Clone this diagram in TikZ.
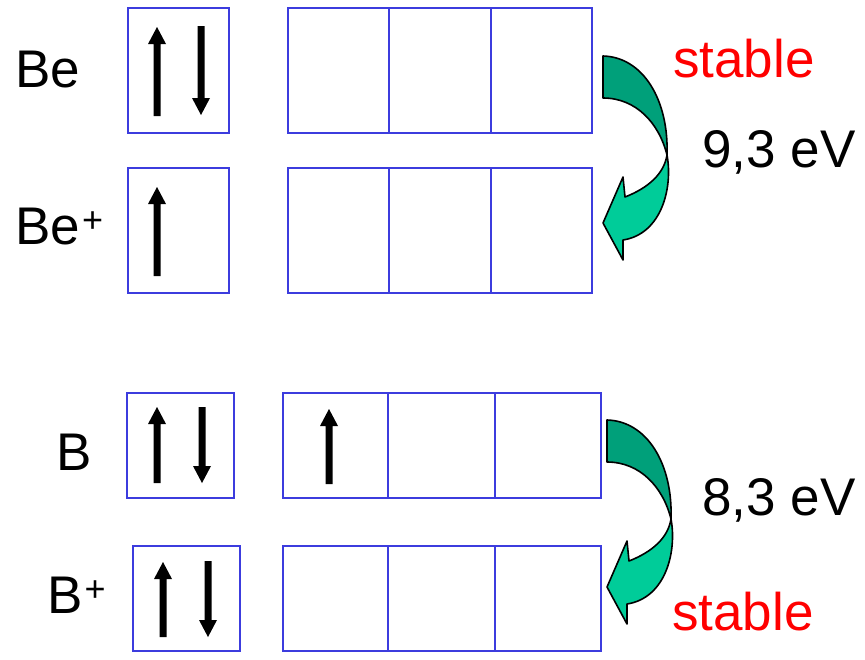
\documentclass[tikz,border=0pt]{standalone}
\usepackage{fontspec}
\setmainfont{Liberation Sans}
\begin{document}
\begin{tikzpicture}[x=1pt,y=-1pt,
  orbital/.style={draw=orbblue,line width=2pt},
  lbl/.style={anchor=base west,inner sep=0pt,font=\fontsize{53}{60}\selectfont},
  redlbl/.style={lbl,text=stablered},
  bandback/.style={fill=greendark,draw=black,line width=1.6pt,line join=round},
  bandfront/.style={fill=greenlight,draw=black,line width=1.6pt,line join=round}]
\definecolor{orbblue}{RGB}{60,60,222}
\definecolor{greendark}{RGB}{0,160,122}
\definecolor{greenlight}{RGB}{0,204,153}
\definecolor{stablered}{RGB}{255,0,0}
\useasboundingbox (0,0) rectangle (865,659);

% spin arrows: #1 = x, #2 = tip y, #3 = tail y
\newcommand{\spinarrow}[3]{%
  \fill[black] ({#1-3.5},#3) -- ({#1-3.5},{#2+(#3-#2)/abs(#3-#2)*17}) -- ({#1-9},{#2+(#3-#2)/abs(#3-#2)*17})
    -- (#1,#2) -- ({#1+9},{#2+(#3-#2)/abs(#3-#2)*17}) -- ({#1+3.5},{#2+(#3-#2)/abs(#3-#2)*17})
    -- ({#1+3.5},#3) -- cycle;}
\newcommand{\superplus}{\kern2pt\raisebox{12pt}{\fontsize{36}{36}\selectfont +}}

% curved ionisation arrow
\newcommand{\ionarrow}[2]{%
  \begin{scope}[shift={(#1,#2)}]
    \path[bandback] (603,56) .. controls (643,57) and (669,100) .. (667,155)
      .. controls (659,123) and (636,98) .. (603,98) -- cycle;
    \path[bandfront] (667,155) .. controls (673,187) and (662,234) .. (623,240)
      -- (623,260) -- (603,223) -- (623,177) -- (625,197)
      .. controls (648,188) and (664,174) .. (667,155) -- cycle;
  \end{scope}}

% ---- Be ----
\node[lbl] (lBe) at (15,87) {Be};
\draw[orbital] (128,8) rectangle (229,133);
\draw[orbital] (288,8) rectangle (389,133);
\draw[orbital] (389,8) rectangle (491,133);
\draw[orbital] (491,8) rectangle (592,133);
\spinarrow{157}{27}{116}
\spinarrow{201}{115}{26}

% ---- Be+ ----
\node[lbl] (lBep) at (15,244) {Be\superplus};
\draw[orbital] (128,168) rectangle (229,293);
\draw[orbital] (288,168) rectangle (389,293);
\draw[orbital] (389,168) rectangle (491,293);
\draw[orbital] (491,168) rectangle (592,293);
\spinarrow{157}{187}{276}

\ionarrow{0}{0}
\node[redlbl] (st1) at (673,77) {stable};
\node[lbl] (e1) at (702,167) {9,3 eV};

% ---- B ----
\node[lbl] (lB) at (56,470) {B};
\draw[orbital] (127,393) rectangle (234,498);
\draw[orbital] (283,393) rectangle (388,498);
\draw[orbital] (388,393) rectangle (495,498);
\draw[orbital] (495,393) rectangle (601,498);
\spinarrow{157}{407}{483}
\spinarrow{202}{483}{407}
\spinarrow{329}{409}{484}

% ---- B+ ----
\node[lbl] (lBp) at (47,613) {B\superplus};
\draw[orbital] (133,546) rectangle (240,651);
\draw[orbital] (283,546) rectangle (388,651);
\draw[orbital] (388,546) rectangle (495,651);
\draw[orbital] (495,546) rectangle (601,651);
\spinarrow{163}{562}{637}
\spinarrow{208}{637}{561}

\ionarrow{4}{364}
\node[lbl] (e2) at (702,515) {8,3 eV};
\node[redlbl] (st2) at (672,630) {stable};
\end{tikzpicture}
\end{document}
